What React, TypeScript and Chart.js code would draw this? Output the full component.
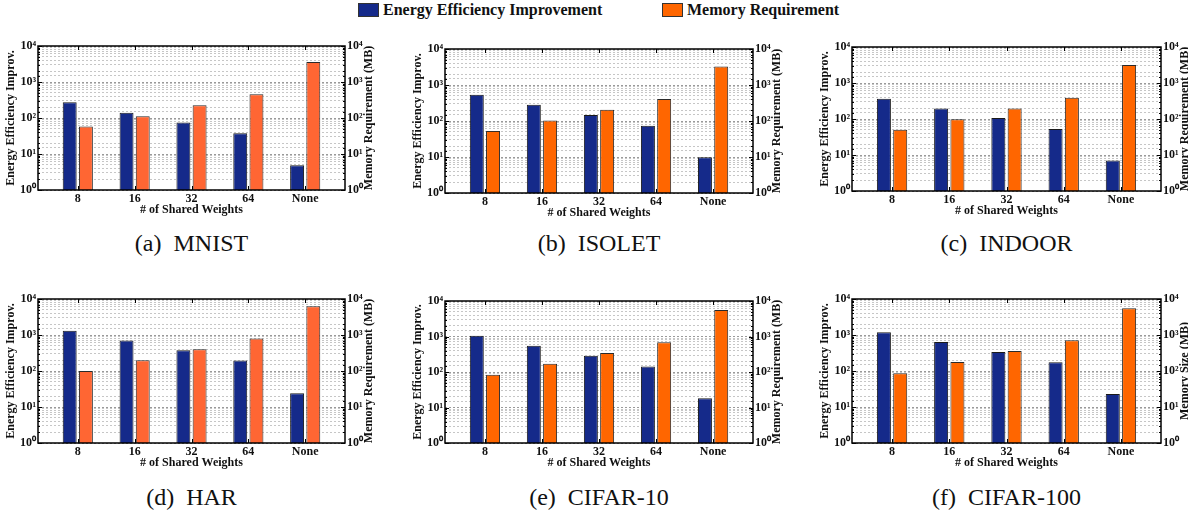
import React, { useEffect, useRef } from 'react';
import { Chart, registerables } from 'chart.js';

Chart.register(...registerables);

// ---------- data ----------
const categories = ['8', '16', '32', '64', 'None'];
const yTickLabels = ['10⁰', '10¹', '10²', '10³', '10⁴'];
const seriesNames = ['Energy Efficiency Improvement', 'Memory Requirement'];

const mnistEnergy = [275, 141, 75, 38, 4.9];
const mnistMemory = [58, 112, 225, 456, 3590];
const isoletEnergy = [540, 284, 147, 74, 9.8];
const isoletMemory = [53, 104, 206, 407, 3290];
const indoorEnergy = [365, 196, 106, 53, 7.0];
const indoorMemory = [50, 99, 196, 388, 3160];
const harEnergy = [1310, 705, 377, 195, 24];
const harMemory = [100, 198, 400, 795, 6330];
const cifar10Energy = [1045, 548, 287, 144, 18.3];
const cifar10Memory = [84, 171, 342, 693, 5600];
const cifar100Energy = [1190, 640, 337, 174, 23];
const cifar100Memory = [86, 178, 359, 711, 5500];

// ---------- styles / layout ----------
const BLUE = '#152a8a';
const ORANGE_A = '#ff6633';
const ORANGE_B = '#ff6600';
const FONT = '"Liberation Serif", "Times New Roman", serif';
const SIDE = 40;
const TOP = 10;
const BOTTOM = 32;

type PanelDef = {
  caption: string;
  energy: number[];
  memory: number[];
  rightTitle: string;
  orange: string;
  L: number; R: number; T: number; B: number;
};

const panels: PanelDef[] = [
  { caption: '(a)\u00a0\u00a0MNIST', energy: mnistEnergy, memory: mnistMemory, rightTitle: 'Memory Requirement (MB)', orange: ORANGE_A, L: 38, R: 345, T: 46, B: 190 },
  { caption: '(b)\u00a0\u00a0ISOLET', energy: isoletEnergy, memory: isoletMemory, rightTitle: 'Memory Requirement (MB)', orange: ORANGE_B, L: 445, R: 753, T: 49, B: 193 },
  { caption: '(c)\u00a0\u00a0INDOOR', energy: indoorEnergy, memory: indoorMemory, rightTitle: 'Memory Requirement (MB)', orange: ORANGE_B, L: 852, R: 1161, T: 47, B: 191 },
  { caption: '(d)\u00a0\u00a0HAR', energy: harEnergy, memory: harMemory, rightTitle: 'Memory Requirement (MB)', orange: ORANGE_A, L: 38, R: 345, T: 299, B: 443 },
  { caption: '(e)\u00a0\u00a0CIFAR-10', energy: cifar10Energy, memory: cifar10Memory, rightTitle: 'Memory Requirement (MB)', orange: ORANGE_B, L: 445, R: 753, T: 301, B: 443 },
  { caption: '(f)\u00a0\u00a0CIFAR-100', energy: cifar100Energy, memory: cifar100Memory, rightTitle: 'Memory Size (MB)', orange: ORANGE_B, L: 852, R: 1161, T: 299, B: 443 },
];

const isDecade = (v: number) => {
  const e = Math.log10(v);
  return Math.abs(e - Math.round(e)) < 1e-9;
};

const framePlugin = {
  id: 'frame',
  afterDraw(chart: any, _args: any, opts: any) {
    const { ctx, chartArea: a } = chart;
    ctx.save();
    ctx.strokeStyle = '#000';
    ctx.lineWidth = 1;
    const ys = chart.scales.y;
    ctx.beginPath();
    ys.ticks.forEach((t: any) => {
      const py = Math.round(ys.getPixelForValue(t.value)) + 0.5;
      const len = isDecade(t.value) ? 4 : 2;
      ctx.moveTo(a.left, py); ctx.lineTo(a.left + len, py);
      ctx.moveTo(a.right, py); ctx.lineTo(a.right - len, py);
    });
    const xs = chart.scales.x;
    xs.ticks.forEach((t: any) => {
      const px = Math.round(xs.getPixelForValue(t.value)) + 0.5;
      ctx.moveTo(px, a.bottom); ctx.lineTo(px, a.bottom - 4);
      ctx.moveTo(px, a.top); ctx.lineTo(px, a.top + 4);
    });
    ctx.stroke();
    ctx.lineWidth = 1.5;
    ctx.strokeRect(a.left, a.top, a.right - a.left, a.bottom - a.top);

    ctx.fillStyle = '#111';
    ctx.font = `bold 12px ${FONT}`;
    ctx.textAlign = 'center';
    ctx.textBaseline = 'middle';
    const cy = (a.top + a.bottom) / 2;
    ctx.save();
    ctx.translate(a.left - 27, cy);
    ctx.rotate(-Math.PI / 2);
    ctx.fillText(opts.leftTitle, 0, 0);
    ctx.restore();
    ctx.save();
    ctx.translate(a.right + 24, cy);
    ctx.rotate(-Math.PI / 2);
    ctx.fillText(opts.rightTitle, 0, 0);
    ctx.restore();
    ctx.fillText(opts.xTitle, (a.left + a.right) / 2, a.bottom + 20);
    ctx.restore();
  },
};

const tickFont = { family: FONT, size: 12, weight: 'bold' as const };

function logAxis(position: 'left' | 'right', showGrid: boolean) {
  return {
    type: 'logarithmic' as const,
    position,
    min: 1,
    max: 10000,
    afterFit: (s: any) => { s.width = SIDE; },
    grid: {
      display: showGrid,
      drawTicks: false,
      lineWidth: 1,
      color: (c: any) => (c.tick && isDecade(c.tick.value) ? '#9a9a9a' : '#c6c6c6'),
    },
    border: { display: false, dash: [2, 2] },
    ticks: {
      autoSkip: false,
      maxRotation: 0,
      padding: 2,
      color: '#111',
      font: tickFont,
      callback: (v: any) => {
        const n = Number(v);
        return isDecade(n) ? yTickLabels[Math.round(Math.log10(n))] : '';
      },
    },
  };
}

function Panel({ p }: { p: PanelDef }) {
  const ref = useRef<HTMLCanvasElement>(null);
  const W = p.R - p.L + 2 * SIDE;
  const H = p.B - p.T + TOP + BOTTOM;
  useEffect(() => {
    const chart = new Chart(ref.current!, {
      type: 'bar',
      data: {
        datasets: [
          {
            label: seriesNames[0],
            data: p.energy.map((v, i) => ({ x: i + 1, y: v })),
            backgroundColor: BLUE,
            borderColor: '#1a1a1a',
            borderWidth: 1,
            yAxisID: 'y',
            categoryPercentage: 0.57,
            barPercentage: 0.86,
          },
          {
            label: seriesNames[1],
            data: p.memory.map((v, i) => ({ x: i + 1, y: v })),
            backgroundColor: p.orange,
            borderColor: '#2a2a2a',
            borderWidth: 1,
            yAxisID: 'y1',
            categoryPercentage: 0.57,
            barPercentage: 0.86,
          },
        ],
      } as any,
      options: {
        responsive: false,
        animation: false,
        devicePixelRatio: 1,
        layout: { padding: { top: TOP, left: 0, right: 0, bottom: 0 }, autoPadding: false },
        plugins: {
          legend: { display: false },
          tooltip: { enabled: false },
          frame: { leftTitle: 'Energy Efficiency Improv.', rightTitle: p.rightTitle, xTitle: '# of Shared Weights' },
        } as any,
        scales: {
          x: {
            type: 'linear',
            min: 0.3,
            max: 5.7,
            offset: false,
            afterFit: (s: any) => { s.height = BOTTOM; },
            afterBuildTicks: (s: any) => { s.ticks = categories.map((_, i) => ({ value: i + 1 })); },
            grid: { display: false, drawTicks: false },
            border: { display: false },
            ticks: {
              autoSkip: false,
              maxRotation: 0,
              padding: 2,
              color: '#111',
              font: tickFont,
              callback: (_v: any, i: number) => categories[i],
            },
          },
          y: logAxis('left', true),
          y1: logAxis('right', false),
        } as any,
      },
      plugins: [framePlugin],
    });
    return () => chart.destroy();
  }, []);
  return (
    <canvas
      ref={ref}
      width={W}
      height={H}
      style={{ position: 'absolute', left: p.L - SIDE, top: p.T - TOP, width: W, height: H }}
    />
  );
}

export default function App() {
  const legendText = { position: 'absolute' as const, top: 1, fontFamily: FONT, fontWeight: 'bold' as const, fontSize: 16, lineHeight: '18px', color: '#111', whiteSpace: 'nowrap' as const };
  return (
    <div style={{ position: 'absolute', left: 0, top: 0, width: 1188, height: 518, background: '#fff', overflow: 'hidden' }}>
      <div style={{ position: 'absolute', left: 358, top: 3, width: 21, height: 14, background: BLUE, border: '1px solid #333', boxSizing: 'border-box' }} />
      <div style={{ ...legendText, left: 383 }}>{seriesNames[0]}</div>
      <div style={{ position: 'absolute', left: 662, top: 3, width: 21, height: 14, background: ORANGE_B, border: '1px solid #333', boxSizing: 'border-box' }} />
      <div style={{ ...legendText, left: 687 }}>{seriesNames[1]}</div>
      {panels.map((p, i) => (
        <React.Fragment key={i}>
          <Panel p={p} />
          <div
            style={{
              position: 'absolute',
              left: (p.L + p.R) / 2 - 150,
              width: 300,
              top: (i < 3 ? 243 : 497) - 14,
              textAlign: 'center',
              fontFamily: FONT,
              fontSize: 24,
              lineHeight: '28px',
              color: '#111',
            }}
          >
            {p.caption}
          </div>
        </React.Fragment>
      ))}
    </div>
  );
}
